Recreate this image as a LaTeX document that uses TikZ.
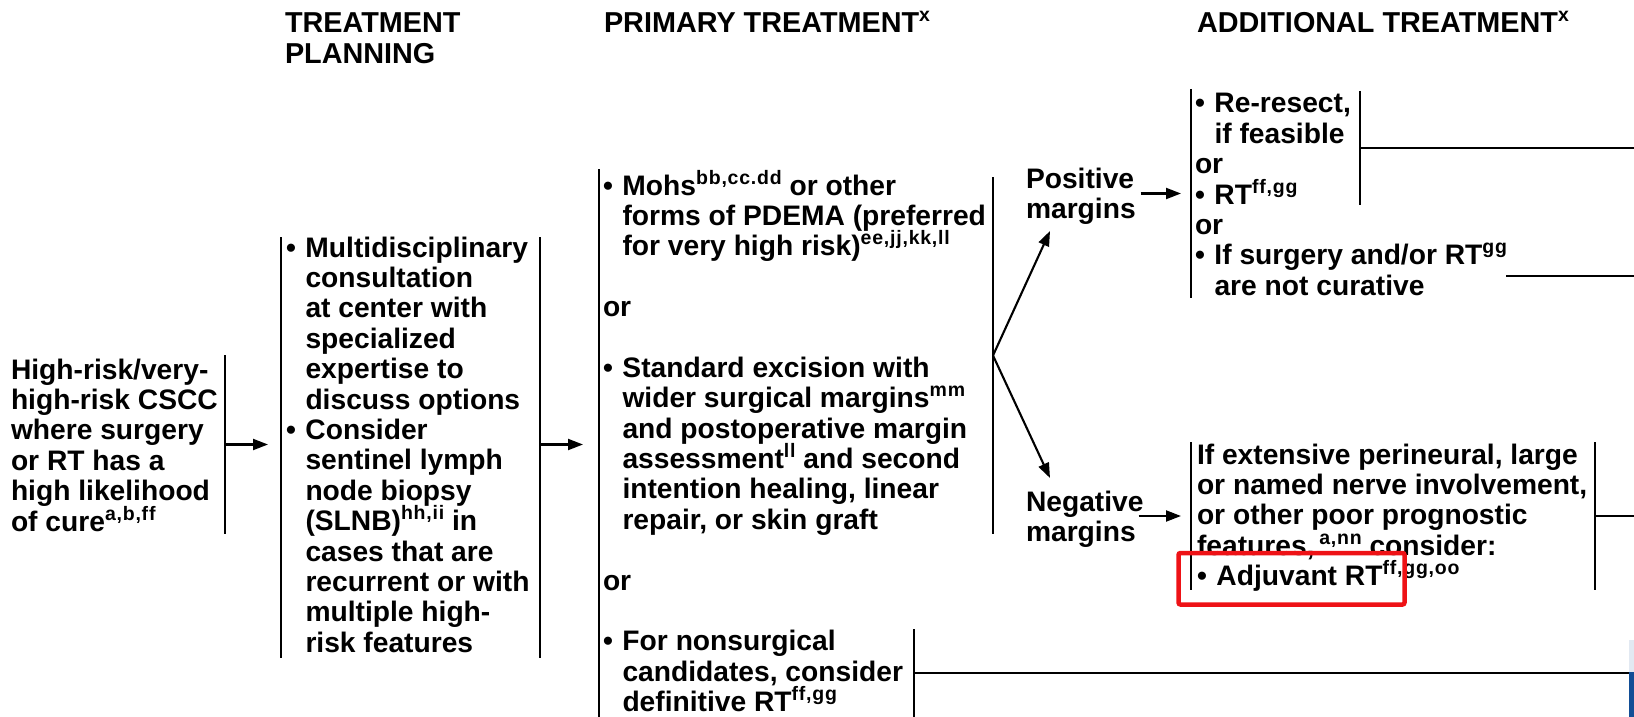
\documentclass[tikz,border=0pt]{standalone}
\usepackage{fontspec}
\setmainfont{Liberation Sans}
\newfontfamily\supfont[LetterSpace=4]{Liberation Sans}
\usetikzlibrary{arrows.meta}
\definecolor{hlred}{RGB}{238,18,22}
\definecolor{edgeblue}{RGB}{18,78,150}
\definecolor{edgepale}{RGB}{226,233,242}
\newcommand{\sps}[1]{\raisebox{11pt}[0pt][0pt]{\supfont\fontsize{19.5pt}{19.5pt}\selectfont\bfseries #1}}
\newcommand{\bul}{\makebox[19.5pt][l]{•}}
\newcommand{\ind}{\hspace*{19.5pt}}
\newcommand{\blk}[1]{{\fontsize{28.2pt}{30.4pt}\selectfont\bfseries\begin{tabular}[t]{@{}l@{}}#1\end{tabular}}}
\newcommand{\hdr}[1]{{\fontsize{28.8pt}{31pt}\selectfont\bfseries\begin{tabular}[t]{@{}l@{}}#1\end{tabular}}}
\tikzset{
  txt/.style={inner sep=0pt, outer sep=0pt, anchor=base west},
  vbar/.style={inner sep=0pt, outer sep=0pt, minimum width=0pt, minimum height=#1},
  ln/.style={line width=2.1pt},
  arr/.style={line width=2.1pt, -{Triangle[length=15pt,width=11pt]}},
}
\begin{document}
\begin{tikzpicture}[x=1pt,y=-1pt]
\useasboundingbox (0,0) rectangle (1634,717);
\coordinate (edge) at (1634,0);
% headers
\node[txt] (hTP) at (285,33) {\hdr{TREATMENT\\PLANNING}};
\node[txt] (hPT) at (604,33) {\hdr{PRIMARY TREATMENT\sps{x}}};
\node[txt] (hAT) at (1197,33) {\hdr{ADDITIONAL TREATMENT\sps{x}}};
% entry
\node[txt] (entry) at (11,379) {\blk{High-risk/very-\\high-risk CSCC\\where surgery\\or RT has a\\high likelihood\\of cure\sps{a,b,ff}}};
\node[vbar=179pt] (b1) at (225,444.5) {};
% planning
\node[txt] (plan) at (286,257) {\blk{\bul Multidisciplinary\\\ind consultation\\\ind at center with\\\ind specialized\\\ind expertise to\\\ind discuss options\\\bul Consider\\\ind sentinel lymph\\\ind node biopsy\\\ind (SLNB)\sps{hh,ii} in\\\ind cases that are\\\ind recurrent or with\\\ind multiple high-\\\ind risk features}};
\node[vbar=421pt] (b2) at (281,447.5) {};
\node[vbar=421pt] (b3) at (540,447.5) {};
% primary
\node[txt] (prim) at (603,195) {\blk{\bul Mohs\sps{bb,cc.dd} or other\\\ind forms of PDEMA (preferred\\\ind for very high risk)\sps{ee,jj,kk,ll}\\ \\or\\ \\\bul Standard excision with\\\ind wider surgical margins\sps{mm}\\\ind and postoperative margin\\\ind assessment\sps{ll} and second\\\ind intention healing, linear\\\ind repair, or skin graft\\ \\or\\ \\\bul For nonsurgical\\\ind candidates, consider\\\ind definitive RT\sps{ff,gg}}};
\node[vbar=548pt] (b4) at (599,443) {};
\node[vbar=357pt] (b5) at (993,355.5) {};
\node[vbar=88pt] (b6) at (914,673) {};
% margins labels
\node[txt] (pos) at (1026,188) {\blk{Positive\\margins}};
\node[txt] (neg) at (1026,511) {\blk{Negative\\margins}};
\coordinate (posTip) at (1050,231);
\coordinate (negTip) at (1050,478);
% additional boxes
\node[txt] (pbox) at (1195,113) {\blk{\bul Re-resect,\\\ind if feasible\\or\\\bul RT\sps{ff,gg}\\or\\\bul If surgery and/or RT\sps{gg}\\\ind are not curative}};
\node[vbar=209pt] (b7) at (1191,193.5) {};
\node[vbar=114pt] (b8) at (1360,148) {};
\coordinate (c1) at (1506,276);
\node[txt] (nbox) at (1197,464) {\blk{If extensive perineural, large\\or named nerve involvement,\\or other poor prognostic\\features,\,\sps{a,nn} consider:\\\bul Adjuvant RT\sps{ff,gg,oo}}};
\node[vbar=148pt] (b9) at (1191,516) {};
\node[vbar=148pt] (b10) at (1595,516) {};
% bars
\foreach \b in {b1,b2,b3,b4,b5,b6,b7,b8,b9,b10}
  \draw[ln] (\b.north) -- (\b.south);
% connectors
\draw[arr, shorten >=13pt] (b1.center) -- (b1.center -| b2.center);
\draw[arr, shorten >=16pt] (b1.center -| b3.center) -- (b1.center -| b4.center);
\draw[arr] (b5.center) -- (posTip);
\draw[arr] (b5.center) -- (negTip);
\draw[arr, shorten <=5pt, shorten >=10pt] (pos.east |- b7.center) -- (b7.center);
\draw[arr, shorten <=-5pt, shorten >=10pt] (neg.east |- b9.center) -- (b9.center);
\draw[ln] (b8.center) -- (b8.center -| edge);
\draw[ln] (c1) -- (c1 -| edge);
\draw[ln] (b10.center) -- (b10.center -| edge);
\draw[ln] (b6.center) -- (b6.center -| edge);
% highlight
\node[draw=hlred, line width=4.5pt, rounded corners=2pt, inner sep=0pt, minimum width=226pt, minimum height=51.5pt] (hl) at (1291.5,578.75) {};
% page edge artifact
\fill[edgepale] (1629,640) rectangle (1634,672);
\fill[edgeblue] (1629,672) rectangle (1634,717);
\end{tikzpicture}
\end{document}
